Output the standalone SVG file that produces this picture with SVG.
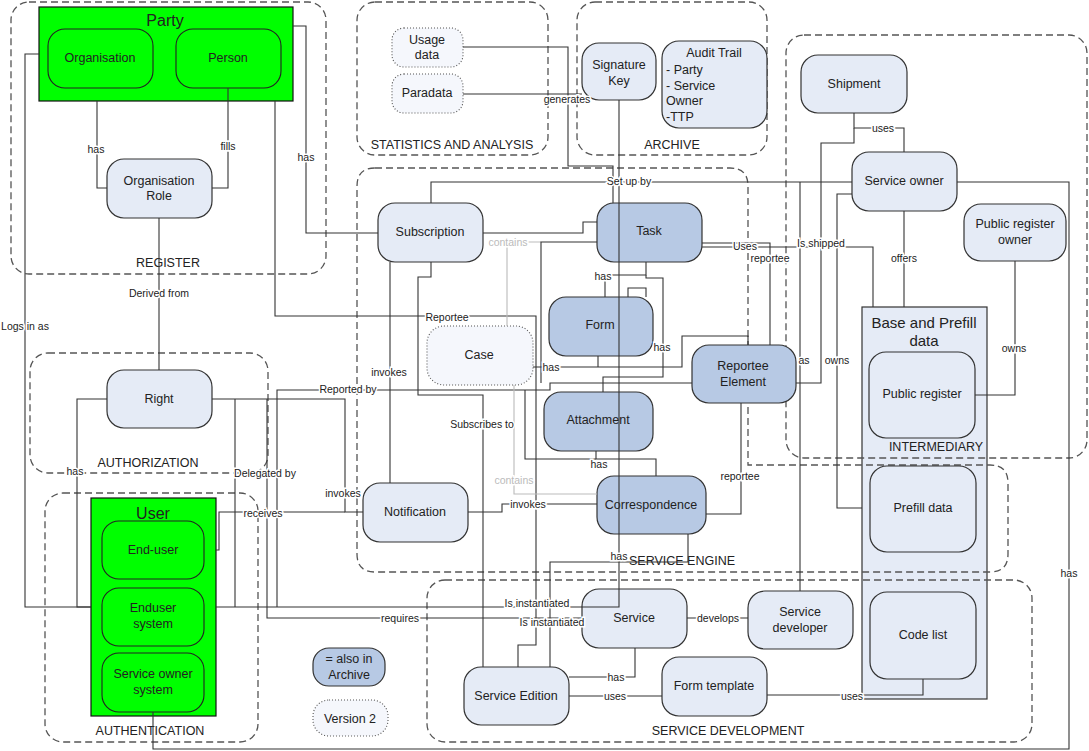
<svg xmlns="http://www.w3.org/2000/svg" width="1089" height="751" viewBox="0 0 1089 751">
<style>
.ctr{fill:none;stroke:#555;stroke-width:1.3;stroke-dasharray:7,4}
.n{fill:#e5ebf6;stroke:#333;stroke-width:1.2}
.d{fill:#b7c9e4;stroke:#333;stroke-width:1.2}
.v2{fill:#f5f7fc;stroke:#555;stroke-width:1.1;stroke-dasharray:1,2}
.g{fill:#00ff00;stroke:#111;stroke-width:1.2}
.gi{fill:#00ff00;stroke:#222;stroke-width:1.1}
.c{fill:none;stroke:#333;stroke-width:1.1}
.cg{fill:none;stroke:#bbb;stroke-width:1.1}
text{font-family:"Liberation Sans",Arial,sans-serif;fill:#222}
.t{font-size:12.5px;text-anchor:middle;dominant-baseline:central}
.tl{font-size:12.5px;dominant-baseline:central}
.big{font-size:16px;text-anchor:middle;dominant-baseline:central}
.cl{font-size:12.5px;text-anchor:middle;dominant-baseline:central;fill:#222}
.lb{font-size:10.5px;text-anchor:middle;dominant-baseline:central;stroke:#fff;stroke-width:3;paint-order:stroke}
.lbg{font-size:10.5px;text-anchor:middle;dominant-baseline:central;fill:#bbb;stroke:#fff;stroke-width:3;paint-order:stroke}
</style>

<g id="base-prefill">
<rect x="862" y="307" width="125" height="392" fill="#e5ebf6" stroke="#333" stroke-width="1.2"/>
<text class="t" x="924" y="322" style="font-size:15px">Base and Prefill</text>
<text class="t" x="924" y="340" style="font-size:15px">data</text>
</g>

<g id="containers">
<rect class="ctr" x="11" y="2" width="315" height="272" rx="18"/>
<text class="cl" x="168" y="263">REGISTER</text>
<rect class="ctr" x="357" y="2" width="191" height="153" rx="18"/>
<text class="cl" x="452" y="145">STATISTICS AND ANALYSIS</text>
<rect class="ctr" x="577" y="2" width="190" height="153" rx="18"/>
<text class="cl" x="672" y="145">ARCHIVE</text>
<rect class="ctr" x="786" y="35" width="301" height="423" rx="18"/>
<text class="cl" x="936" y="447">INTERMEDIARY</text>
<path class="ctr" d="M375,168 H730 Q748,168 748,186 V465 H990 Q1008,465 1008,483 V554 Q1008,572 990,572 H375 Q357,572 357,554 V186 Q357,168 375,168 Z"/>
<text class="cl" x="682" y="561">SERVICE ENGINE</text>
<rect class="ctr" x="30" y="353" width="238" height="120" rx="18"/>
<text class="cl" x="148" y="463">AUTHORIZATION</text>
<rect class="ctr" x="45" y="493" width="213" height="249" rx="18"/>
<text class="cl" x="150" y="731">AUTHENTICATION</text>
<rect class="ctr" x="427" y="580" width="605" height="162" rx="18"/>
<text class="cl" x="728" y="731">SERVICE DEVELOPMENT</text>
</g>

<g id="party">
<rect class="g" x="39" y="7" width="254" height="94"/>
<text class="big" x="165" y="20">Party</text>
<g id="organisation"><rect class="gi" x="48" y="29" width="105" height="59" rx="17"/><text class="t" x="100" y="58">Organisation</text></g>
<g id="person"><rect class="gi" x="176" y="29" width="105" height="59" rx="17"/><text class="t" x="228" y="58">Person</text></g>
</g>
<g id="organisation-role"><rect class="n" x="107" y="159" width="105" height="59" rx="17"/><text class="t" x="159" y="181">Organisation</text><text class="t" x="159" y="196">Role</text></g>
<g id="right"><rect class="n" x="107" y="370" width="105" height="58" rx="17"/><text class="t" x="159" y="399">Right</text></g>
<g id="user">
<rect class="g" x="91" y="498" width="125" height="218"/>
<text class="big" x="153" y="513">User</text>
<g id="end-user"><rect class="gi" x="102" y="521" width="102" height="58" rx="17"/><text class="t" x="153" y="550">End-user</text></g>
<g id="enduser-system"><rect class="gi" x="102" y="588" width="102" height="58" rx="17"/><text class="t" x="153" y="608">Enduser</text><text class="t" x="153" y="624">system</text></g>
<g id="service-owner-system"><rect class="gi" x="102" y="653" width="102" height="59" rx="17"/><text class="t" x="153" y="674">Service owner</text><text class="t" x="153" y="690">system</text></g>
</g>
<g id="usage-data"><rect class="v2" x="392" y="28" width="71" height="39" rx="12"/><text class="t" x="427" y="40">Usage</text><text class="t" x="427" y="55">data</text></g>
<g id="paradata"><rect class="v2" x="392" y="74" width="71" height="39" rx="12"/><text class="t" x="427" y="93">Paradata</text></g>
<g id="signature-key"><rect class="n" x="582" y="43" width="74" height="57" rx="17"/><text class="t" x="619" y="65">Signature</text><text class="t" x="619" y="81">Key</text></g>
<g id="audit-trail"><rect class="n" x="662" y="41" width="105" height="87" rx="17"/><text class="t" x="714" y="53">Audit Trail</text><text class="tl" x="666" y="70">- Party</text><text class="tl" x="666" y="86">- Service</text><text class="tl" x="666" y="101">Owner</text><text class="tl" x="666" y="117">-TTP</text></g>
<g id="shipment"><rect class="n" x="801" y="55" width="106" height="58" rx="17"/><text class="t" x="854" y="84">Shipment</text></g>
<g id="service-owner"><rect class="n" x="852" y="152" width="105" height="59" rx="17"/><text class="t" x="904" y="181">Service owner</text></g>
<g id="public-register-owner"><rect class="n" x="964" y="204" width="102" height="57" rx="17"/><text class="t" x="1015" y="224">Public register</text><text class="t" x="1015" y="240">owner</text></g>
<g id="public-register"><rect class="n" x="869" y="352" width="106" height="86" rx="17"/><text class="t" x="922" y="394">Public register</text></g>
<g id="prefill-data"><rect class="n" x="870" y="466" width="106" height="86" rx="17"/><text class="t" x="923" y="508">Prefill data</text></g>
<g id="code-list"><rect class="n" x="870" y="592" width="106" height="87" rx="17"/><text class="t" x="923" y="635">Code list</text></g>
<g id="subscription"><rect class="n" x="378" y="203" width="105" height="59" rx="17"/><text class="t" x="430" y="232">Subscription</text></g>
<g id="task"><rect class="d" x="597" y="203" width="105" height="59" rx="17"/><text class="t" x="649" y="231">Task</text></g>
<g id="form"><rect class="d" x="549" y="297" width="104" height="59" rx="17"/><text class="t" x="600" y="325">Form</text></g>
<g id="case"><rect class="v2" x="427" y="326" width="106" height="59" rx="17"/><text class="t" x="479" y="355">Case</text></g>
<g id="reportee-element"><rect class="d" x="692" y="345" width="104" height="58" rx="17"/><text class="t" x="743" y="366">Reportee</text><text class="t" x="743" y="382">Element</text></g>
<g id="attachment"><rect class="d" x="544" y="392" width="109" height="59" rx="17"/><text class="t" x="598" y="420">Attachment</text></g>
<g id="notification"><rect class="n" x="363" y="483" width="105" height="59" rx="17"/><text class="t" x="415" y="512">Notification</text></g>
<g id="correspondence"><rect class="d" x="597" y="476" width="109" height="58" rx="17"/><text class="t" x="651" y="505">Correspondence</text></g>
<g id="service"><rect class="n" x="582" y="589" width="105" height="59" rx="17"/><text class="t" x="634" y="618">Service</text></g>
<g id="service-developer"><rect class="n" x="748" y="591" width="105" height="58" rx="17"/><text class="t" x="800" y="612">Service</text><text class="t" x="800" y="628">developer</text></g>
<g id="service-edition"><rect class="n" x="464" y="667" width="105" height="58" rx="17"/><text class="t" x="516" y="696">Service Edition</text></g>
<g id="form-template"><rect class="n" x="662" y="657" width="105" height="59" rx="17"/><text class="t" x="714" y="686">Form template</text></g>
<g id="legend-archive"><rect class="d" x="313" y="648" width="72" height="38" rx="16"/><text class="t" x="349" y="659">= also in</text><text class="t" x="349" y="675">Archive</text></g>
<g id="legend-version2"><rect class="v2" x="313" y="700" width="75" height="36" rx="16"/><text class="t" x="350" y="719">Version 2</text></g>

<g id="connectors">
<path class="c" d="M97,101 V188 H107"/>
<path class="c" d="M228,88 V188 H212"/>
<path class="c" d="M293,26 H306 V233 H378"/>
<path class="c" d="M159,218 V370"/>
<path class="c" d="M39,54 H25 V607 H91"/>
<path class="c" d="M107,399 H77 V607 H91"/>
<path class="c" d="M212,399 H345 V512 H363"/>
<path class="c" d="M235,399 V607"/>
<path class="c" d="M267,399 V618 H582"/>
<path class="c" d="M216,550 H219 V512 H345"/>
<path class="c" d="M216,607 H619 V100"/>
<path class="c" d="M277,607 V390 H550 V383 H692"/>
<path class="c" d="M275,101 V316 H536 V645 H518 V667"/>
<path class="c" d="M390,262 V483"/>
<path class="c" d="M431,262 V277 H418 V395 H483 V667"/>
<path class="c" d="M431,203 V182 H852"/>
<path class="c" d="M483,233 H583 V222 H597"/>
<path class="cg" d="M507,326 V242 H541"/>
<path class="c" d="M597,242 H541 V383"/>
<path class="c" d="M646,262 V275 H605 V297"/>
<path class="c" d="M646,275 V278 H663 V377 H603 V392"/>
<path class="c" d="M628,297 V288 H646 V297"/>
<path class="c" d="M533,367 H682 V336 H748 V345"/>
<path class="c" d="M598,356 V367"/>
<path class="c" d="M596,451 V459 H656 V476"/>
<path class="c" d="M525,390 V459 H596"/>
<path class="cg" d="M514,385 V494 H597"/>
<path class="c" d="M468,512 H502 V504 H597"/>
<path class="c" d="M741,403 V514 H706"/>
<path class="c" d="M688,534 V562 H550 V667"/>
<path class="c" d="M702,243 H770 V345"/>
<path class="c" d="M702,247 H873 V307"/>
<path class="c" d="M854,113 V128 H904 V152"/>
<path class="c" d="M854,128 V143 H821 V383 H796"/>
<path class="c" d="M800,182 V591"/>
<path class="c" d="M852,194 H837 V508 H862"/>
<path class="c" d="M904,211 V307"/>
<path class="c" d="M1015,261 V395 H975"/>
<path class="c" d="M957,182 H1069 V749 H153 V712"/>
<path class="c" d="M463,47 H568 V166 H613 V203"/>
<path class="c" d="M463,94 H582"/>
<path class="c" d="M635,648 V677 H569"/>
<path class="c" d="M569,696 H662"/>
<path class="c" d="M687,618 H748"/>
<path class="c" d="M767,695 H923 V679"/>
</g>

<g id="labels">
<text class="lb" x="96" y="149">has</text>
<text class="lb" x="228" y="146">fills</text>
<text class="lb" x="306" y="157">has</text>
<text class="lb" x="159" y="293">Derived from</text>
<text class="lb" x="25" y="326">Logs in as</text>
<text class="lb" x="75" y="471">has</text>
<text class="lb" x="265" y="473">Delegated by</text>
<text class="lb" x="348" y="389">Reported by</text>
<text class="lb" x="389" y="372">invokes</text>
<text class="lb" x="343" y="493">invokes</text>
<text class="lb" x="263" y="513">receives</text>
<text class="lb" x="400" y="618">requires</text>
<text class="lb" x="482" y="424">Subscribes to</text>
<text class="lb" x="447" y="317">Reportee</text>
<text class="lbg" x="508" y="242">contains</text>
<text class="lb" x="629" y="181">Set up by</text>
<text class="lb" x="603" y="276">has</text>
<text class="lb" x="662" y="347">has</text>
<text class="lb" x="551" y="367">has</text>
<text class="lb" x="599" y="464">has</text>
<text class="lbg" x="514" y="480">contains</text>
<text class="lb" x="528" y="504">invokes</text>
<text class="lb" x="740" y="476">reportee</text>
<text class="lb" x="619" y="556">has</text>
<text class="lb" x="537" y="603">Is instantiated</text>
<text class="lb" x="552" y="622">Is instantiated</text>
<text class="lb" x="718" y="618">develops</text>
<text class="lb" x="616" y="677">has</text>
<text class="lb" x="615" y="696">uses</text>
<text class="lb" x="852" y="696">uses</text>
<text class="lb" x="1069" y="573">has</text>
<text class="lb" x="567" y="99">generates</text>
<text class="lb" x="745" y="246">Uses</text>
<text class="lb" x="770" y="258">reportee</text>
<text class="lb" x="821" y="243">Is shipped</text>
<text class="lb" x="883" y="128">uses</text>
<text class="lb" x="904" y="258">offers</text>
<text class="lb" x="837" y="360">owns</text>
<text class="lb" x="804" y="360">as</text>
<text class="lb" x="1014" y="348">owns</text>
</g>
</svg>
